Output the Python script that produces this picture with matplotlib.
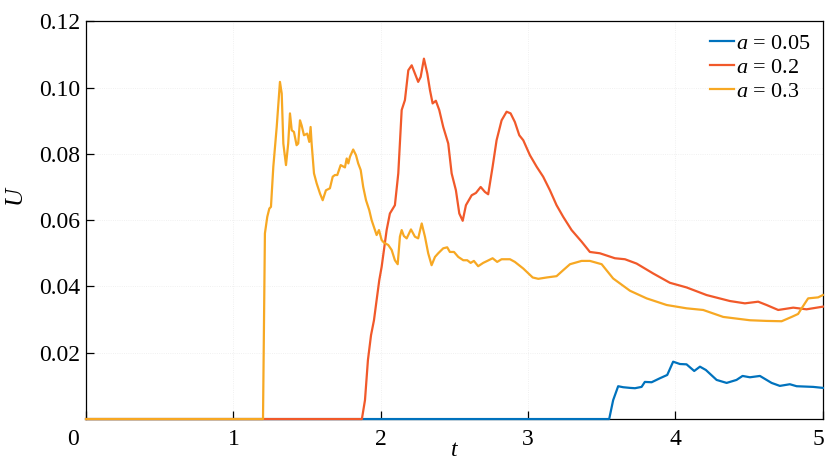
import numpy as np
import matplotlib
matplotlib.use("Agg")
import matplotlib.pyplot as plt
import matplotlib.transforms as mtransforms

plt.rcParams['font.family'] = ['Liberation Serif', 'DejaVu Serif']
plt.rcParams['mathtext.fontset'] = 'custom'
plt.rcParams['mathtext.rm'] = 'Liberation Serif'
plt.rcParams['mathtext.it'] = 'Liberation Serif:italic'

# a = 0.05
t1 = [0.0, 3.550, 3.577, 3.611, 3.645, 3.691, 3.725, 3.770, 3.792, 3.838, 3.894,
      3.944, 3.984, 4.030, 4.075, 4.127, 4.166, 4.206, 4.279, 4.347, 4.414, 4.455,
      4.505, 4.573, 4.652, 4.708, 4.776, 4.822, 4.934, 5.0]
u1 = [0.0, 0.0, 0.0057, 0.0099, 0.0096, 0.0094, 0.0093, 0.0097, 0.0112, 0.0111, 0.0123,
      0.0133, 0.0173, 0.0166, 0.0165, 0.0145, 0.0158, 0.0148, 0.0118, 0.0109, 0.0118, 0.0130,
      0.0126, 0.0130, 0.0109, 0.0100, 0.0105, 0.0099, 0.0097, 0.0094]

# a = 0.2
t2 = [0.0, 1.872, 1.893, 1.913, 1.934, 1.954, 1.972, 1.990, 2.006, 2.040, 2.062,
      2.096, 2.119, 2.142, 2.164, 2.187, 2.210, 2.232, 2.254, 2.271, 2.293, 2.316,
      2.334, 2.352, 2.374, 2.397, 2.424, 2.458, 2.481, 2.510, 2.533, 2.556, 2.578,
      2.617, 2.646, 2.678, 2.707, 2.729, 2.759, 2.786, 2.820, 2.854, 2.881, 2.910,
      2.940, 2.967, 3.012, 3.058, 3.102, 3.148, 3.193, 3.238, 3.295, 3.363, 3.419,
      3.487, 3.589, 3.657, 3.736, 3.849, 3.962, 4.075, 4.211, 4.369, 4.471, 4.561,
      4.618, 4.697, 4.799, 4.889, 5.0]
u2 = [0.0, 0.0, 0.0057, 0.0178, 0.0253, 0.0298, 0.0359, 0.0419, 0.0459, 0.0570, 0.0620,
      0.0645, 0.0741, 0.0932, 0.0962, 0.1052, 0.1067, 0.1042, 0.1017, 0.1032, 0.1087, 0.1042,
      0.0992, 0.0952, 0.0960, 0.0932, 0.0881, 0.0831, 0.0741, 0.0690, 0.0620, 0.0598, 0.0645,
      0.0675, 0.0682, 0.0700, 0.0685, 0.0678, 0.0761, 0.0841, 0.0901, 0.0927, 0.0922, 0.0896,
      0.0856, 0.0841, 0.0796, 0.0761, 0.0731, 0.0690, 0.0645, 0.0610, 0.0570, 0.0535, 0.0504,
      0.0500, 0.0485, 0.0482, 0.0469, 0.0439, 0.0411, 0.0397, 0.0374, 0.0356, 0.0349, 0.0354,
      0.0344, 0.0329, 0.0336, 0.0331, 0.0339]

# a = 0.3
t3 = [0.0, 1.201, 1.214, 1.230, 1.244, 1.255, 1.271, 1.294, 1.316, 1.328, 1.339,
      1.357, 1.372, 1.384, 1.396, 1.411, 1.429, 1.440, 1.452, 1.463, 1.479, 1.501,
      1.515, 1.524, 1.531, 1.547, 1.565, 1.588, 1.606, 1.628, 1.655, 1.674, 1.689,
      1.705, 1.728, 1.757, 1.769, 1.780, 1.791, 1.813, 1.832, 1.847, 1.864, 1.881,
      1.900, 1.922, 1.938, 1.972, 1.988, 2.006, 2.022, 2.051, 2.074, 2.096, 2.115,
      2.130, 2.142, 2.157, 2.176, 2.205, 2.232, 2.254, 2.278, 2.300, 2.322, 2.345,
      2.368, 2.390, 2.424, 2.451, 2.469, 2.497, 2.526, 2.560, 2.587, 2.610, 2.632,
      2.661, 2.695, 2.723, 2.759, 2.790, 2.820, 2.877, 2.910, 2.967, 3.031, 3.069,
      3.126, 3.193, 3.238, 3.284, 3.363, 3.419, 3.499, 3.577, 3.691, 3.804, 3.940,
      4.075, 4.188, 4.324, 4.505, 4.618, 4.720, 4.788, 4.832, 4.856, 4.900, 4.968, 5.0]
u3 = [0.0, 0.0, 0.0560, 0.0610, 0.0635, 0.0640, 0.0761, 0.0881, 0.1017, 0.0982, 0.0831,
      0.0766, 0.0831, 0.0922, 0.0871, 0.0866, 0.0826, 0.0831, 0.0901, 0.0886, 0.0856, 0.0861,
      0.0836, 0.0881, 0.0831, 0.0741, 0.0711, 0.0680, 0.0660, 0.0690, 0.0696, 0.0731, 0.0736,
      0.0736, 0.0766, 0.0759, 0.0786, 0.0771, 0.0791, 0.0813, 0.0796, 0.0771, 0.0751, 0.0700,
      0.0660, 0.0630, 0.0600, 0.0555, 0.0570, 0.0540, 0.0532, 0.0525, 0.0510, 0.0479, 0.0467,
      0.0550, 0.0570, 0.0552, 0.0545, 0.0572, 0.0550, 0.0545, 0.0590, 0.0550, 0.0500, 0.0464,
      0.0489, 0.0500, 0.0515, 0.0518, 0.0504, 0.0504, 0.0489, 0.0479, 0.0479, 0.0471, 0.0477,
      0.0461, 0.0471, 0.0477, 0.0485, 0.0474, 0.0482, 0.0482, 0.0474, 0.0454, 0.0427, 0.0423,
      0.0427, 0.0431, 0.0449, 0.0467, 0.0477, 0.0477, 0.0467, 0.0424, 0.0387, 0.0364, 0.0344,
      0.0334, 0.0329, 0.0308, 0.0298, 0.0296, 0.0295, 0.0308, 0.0317, 0.0334, 0.0364, 0.0367, 0.0374]

labels = ['$a$ = 0.05', '$a$ = 0.2', '$a$ = 0.3']
colors = ['#0072BD', '#F1592A', '#F7A823']
xticks = [0, 1, 2, 3, 4, 5]
yticks = [0.02, 0.04, 0.06, 0.08, 0.10, 0.12]

fig = plt.figure(figsize=(8.27, 4.61), dpi=100)
ax = fig.add_axes([0.104, 0.091, 0.891, 0.863])

for t, u, lab, c in zip([t1, t2, t3], [u1, u2, u3], labels, colors):
    ax.plot(t, u, color=c, lw=1.6, label=lab, clip_on=False, zorder=3)

ax.set_xlim(0, 5)
ax.set_ylim(0, 0.12)
ax.set_xticks(xticks)
ax.set_xticklabels([''] + [str(v) for v in xticks[1:]])
ax.set_yticks(yticks)
ax.set_yticklabels(['%.2f' % v for v in yticks])
ax.text(-0.018, -0.024, '0', transform=ax.transAxes, ha='center', va='top', fontsize=17)

ax.tick_params(direction='in', length=6, width=0.9, labelsize=17, top=False, right=False)
ax.tick_params(axis='x', pad=7)
ax.tick_params(axis='y', pad=4)
ax.grid(True, color='#ececec', ls=':', lw=0.6)
for s in ax.spines.values():
    s.set_linewidth(0.9)

# keep the last x label inside the figure
lastlab = ax.get_xticklabels()[-1]
lastlab.set_transform(lastlab.get_transform() +
                      mtransforms.ScaledTranslation(-3 / 72, 0, fig.dpi_scale_trans))

ax.set_xlabel('$t$', fontsize=17, labelpad=-7)
ax.set_ylabel('$U$', fontsize=18)
ax.yaxis.set_label_coords(-0.079, 0.56)

ax.legend(loc='upper right', frameon=False, fontsize=16, handlelength=1.05,
          handletextpad=0.1, labelspacing=0.15, borderaxespad=0.35, borderpad=0.2)

fig.savefig('out.png', dpi=100)
